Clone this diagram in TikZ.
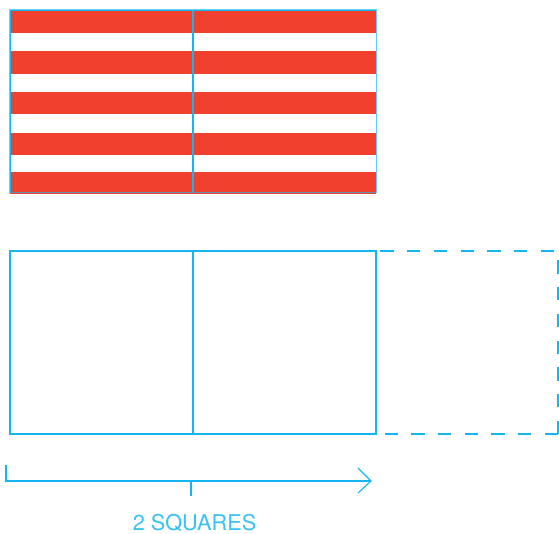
\documentclass[tikz,border=0pt]{standalone}
\usepackage{fontspec}
\setmainfont{TeX Gyre Heros}
\definecolor{skyline}{HTML}{14B6F2}
\definecolor{skylight}{HTML}{62CFF8}
\definecolor{stripered}{HTML}{F1402E}
\definecolor{bottomedge}{HTML}{5E8FB5}
\tikzset{
  stripe/.style={fill=stripered,draw=none},
  boxline/.style={draw=skyline,line width=1.5pt},
  dashline/.style={draw=skyline,line width=1.5pt,dash pattern=on 13.3pt off 13.4pt},
  dimline/.style={draw=skyline,line width=1.1pt},
  caption/.style={text=skyline,font=\fontsize{21.7}{24}\selectfont,inner sep=0pt,opacity=.85}
}
\begin{document}
\begin{tikzpicture}[x=1pt,y=-1pt]
\useasboundingbox (0,0) rectangle (559,534);
% stripes
\fill[stripe] (10,11) rectangle (376,33);
\fill[stripe] (10,51) rectangle (376,74);
\fill[stripe] (10,92) rectangle (376,114);
\fill[stripe] (10,133) rectangle (376,155);
\fill[stripe] (10,172) rectangle (376,194.5);
% top frame
\draw[draw=skylight,line width=1.8pt] (10,10) rectangle (376.5,192.5);
\draw[draw=skyline,line width=1.2pt] (10.5,10.5) -- (376,10.5);
\draw[draw=skyline,line width=1.2pt] (10.7,10) -- (10.7,193);
\draw[draw=skyline,line width=1.6pt] (193,10) -- (193,193);
\draw[draw=bottomedge,line width=1.8pt] (10,192.5) -- (376,192.5);
% lower squares
\draw[boxline] (10.2,251.2) rectangle (376,434);
\draw[boxline] (193,251.2) -- (193,434);
% dashed extension
\draw[dashline] (558,434) -- (558,251.2) -- (376,251.2);
\draw[dashline] (558,434) -- (376,434);
\draw[draw=skyline,line width=1.7pt,dash pattern=on 13.3pt off 13.4pt,dash phase=5pt] (376,251.2) -- (376,434);
% dimension
\coordinate (dimstart) at (6,465);
\coordinate (dimcorner) at (6,481);
\coordinate (dimend) at (371,481);
\coordinate (tipa) at (358,468);
\coordinate (tipb) at (358,493);
\coordinate (tickup) at (191,481);
\coordinate (tickdown) at (191,496);
\draw[dimline] (dimstart) -- (dimcorner) -- (dimend);
\draw[dimline] (tipa) -- (dimend) -- (tipb);
\draw[dimline] (tickup) -- (tickdown);
\node[caption] (label) at (194.5,523) {2 SQUARES};
\end{tikzpicture}
\end{document}
